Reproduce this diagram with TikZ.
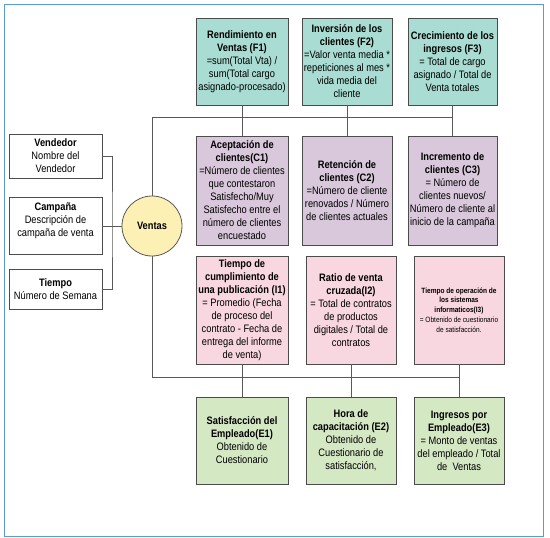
\documentclass[tikz,border=0pt]{standalone}
\usepackage{fontspec}
\setmainfont{Liberation Sans}[FakeStretch=0.86]
\usepackage{tikz}
\usetikzlibrary{positioning,calc}
\definecolor{frameblue}{HTML}{5B9BD5}
\definecolor{finan}{HTML}{A9DCD2}
\definecolor{client}{HTML}{D9C8DB}
\definecolor{intern}{HTML}{F8D7E0}
\definecolor{emplea}{HTML}{D5E8C4}
\definecolor{venta}{HTML}{FDF0B4}

\begin{document}
\begin{tikzpicture}[x=1pt, y=-1pt, font=\fontsize{10.8}{13}\selectfont,
        kpi/.style={draw=black!70, line width=0.8pt, align=center, inner sep=1pt, minimum width=#1},
        kpi/.default=92pt,
        link/.style={draw=black!65, line width=0.8pt}]
        \useasboundingbox (0,0) rectangle (550,538);
        \draw[frameblue, line width=1pt] (4,4) rectangle (543,536);
        % financial row
        \node[kpi, fill=finan, minimum height=87pt] (f1) at (242,61.5) {\textbf{Rendimiento en}\\\textbf{Ventas (F1)}\\=sum(Total Vta) /\\sum(Total cargo\\asignado-procesado)};
        \node[kpi=90pt, fill=finan, minimum height=87pt] (f2) at (347,61.5) {\textbf{Inversión de los}\\\textbf{clientes (F2)}\\=Valor venta media *\\repeticiones al mes *\\vida media del\\cliente};
        \node[kpi=89pt, fill=finan, minimum height=87pt] (f3) at (452.5,61.5) {\textbf{Crecimiento de los}\\\textbf{ingresos (F3)}\\= Total de cargo\\asignado / Total de\\Venta totales};
        % client row
        \node[kpi, fill=client, minimum height=109pt] (c1) at (242,190.5) {\textbf{Aceptación de}\\\textbf{clientes(C1)}\\=Número de clientes\\que contestaron\\Satisfecho/Muy\\Satisfecho entre el\\número de clientes\\encuestado};
        \node[kpi=90pt, fill=client, minimum height=109pt] (c2) at (347,190.5) {\textbf{Retención de}\\\textbf{clientes (C2)}\\=Número de cliente\\renovados / Número\\de clientes actuales};
        \node[kpi=89pt, fill=client, minimum height=109pt] (c3) at (452.5,190.5) {\textbf{Incremento de}\\\textbf{clientes (C3)}\\= Número de\\clientes nuevos/\\Número de cliente al\\inicio de la campaña};
        % internal row
        \node[kpi, fill=intern, minimum height=108pt] (i1) at (242,310) {\textbf{Tiempo de}\\\textbf{cumplimiento de}\\\textbf{una publicación (I1)}\\= Promedio (Fecha\\de proceso del\\contrato - Fecha de\\entrega del informe\\de venta)};
        \node[kpi=90pt, fill=intern, minimum height=108pt] (i2) at (351,310) {\textbf{Ratio de venta}\\\textbf{cruzada(I2)}\\= Total de contratos\\de productos\\digitales / Total de\\contratos};
        \node[kpi=90pt, fill=intern, minimum height=108pt, font=\fontsize{7.6}{9.8}\selectfont] (i3) at (459,310) {\textbf{Tiempo de operación de}\\\textbf{los sistemas}\\\textbf{informaticos(I3)}\\= Obtenido de cuestionario\\de satisfacción.};
        % employee row
        \node[kpi, fill=emplea, minimum height=87pt] (e1) at (242,440.5) {\textbf{Satisfacción del}\\\textbf{Empleado(E1)}\\Obtenido de\\Cuestionario};
        \node[kpi=90pt, fill=emplea, minimum height=87pt] (e2) at (351,440.5) {\textbf{Hora de}\\\textbf{capacitación (E2)}\\Obtenido de\\Cuestionario de\\satisfacción,};
        \node[kpi=90pt, fill=emplea, minimum height=87pt] (e3) at (459,440.5) {\textbf{Ingresos por}\\\textbf{Empleado(E3)}\\= Monto de ventas\\del empleado / Total\\de~~Ventas};
        % dimensions
        \node[kpi=93pt, fill=white, minimum height=44pt] (vendedor) at (55.5,156) {\textbf{Vendedor}\\Nombre del\\Vendedor};
        \node[kpi=93pt, fill=white, minimum height=57pt] (campana) at (55.5,226) {\textbf{Campaña}\\Descripción de\\campaña de venta\\\mbox{}};
        \node[kpi=93pt, fill=white, minimum height=40pt] (tiempo) at (55.5,289) {\textbf{Tiempo}\\Número de Semana};
        \node[circle, draw=black!65, line width=0.8pt, fill=venta, minimum size=60pt, inner sep=0pt] (ventas) at (152,226) {\textbf{Ventas}};
        % connectors
        \coordinate (fbus) at (452.5,117);
        \coordinate (ibus) at (459,377);
        \coordinate (join) at (112,226);
        \draw[link] (ventas.north) |- (fbus);
        \draw[link] (ventas.south) |- (ibus);
        \foreach \a/\b in {f1/c1,f2/c2,f3/c3,i1/e1,i2/e2,i3/e3}{\draw[link] (\a) -- (\b);}
        \draw[link] (vendedor.east) -| (join) |- (tiempo.east);
        \draw[link] (campana.east) -- (ventas.west);
\end{tikzpicture}
\end{document}
